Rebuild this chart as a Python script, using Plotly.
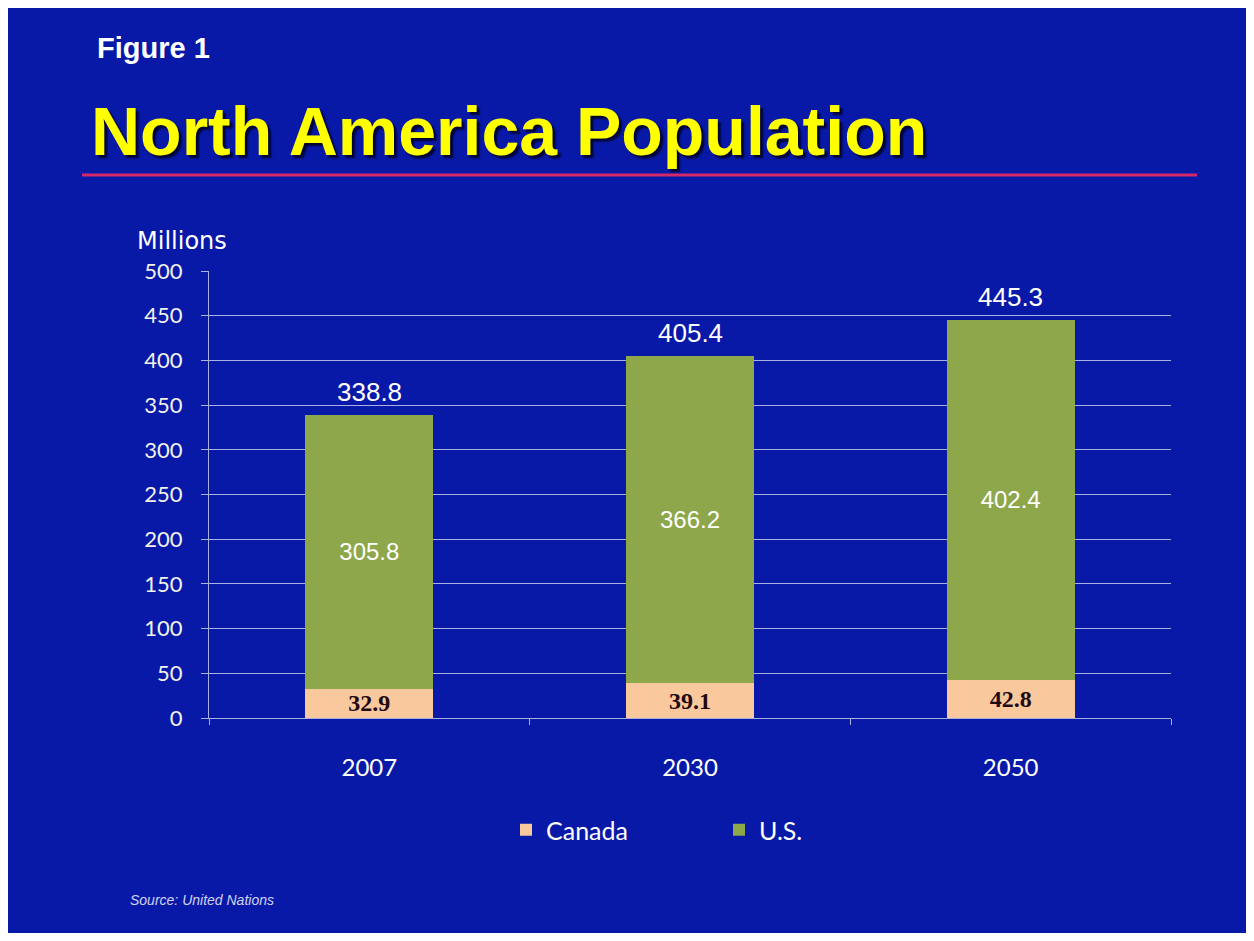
import plotly.graph_objects as go

# ---- data ----
years = ["2007", "2030", "2050"]
canada = [32.9, 39.1, 42.8]
us = [305.8, 366.2, 402.4]
totals = [338.8, 405.4, 445.3]
y_ticks = [0, 50, 100, 150, 200, 250, 300, 350, 400, 450, 500]

BG = "#0819A8"
GRID = "#A9B0E2"
W, H = 1238, 925
OFF = 8  # page margin in screenshot
L, R, T, B = 201, 75, 263, 215
PW, PH = W - L - R, H - T - B


def px(x):
    return (x - OFF - L) / PW


def py(y):
    return (H - B - (y - OFF)) / PH


fig = go.Figure()
fig.add_bar(
    x=years, y=canada, name="Canada",
    marker=dict(color="#F9C89C", line_width=0),
    text=[f"{v:.1f}" for v in canada], textposition="inside",
    insidetextanchor="middle", textangle=0,
    textfont=dict(family="Liberation Serif", size=25, color="#220810", weight="bold"),
)
fig.add_bar(
    x=years, y=us, name="U.S.",
    marker=dict(color="#8EA74B", line_width=0),
    text=[f"{v:.1f}" for v in us], textposition="inside",
    insidetextanchor="middle", textangle=0,
    textfont=dict(family="Liberation Sans", size=24, color="white"),
)

# total labels above each stacked bar (category index positions on the x scale)
for i, tot in enumerate(totals):
    fig.add_annotation(x=i, y=tot, xref="x", yref="y", text=f"{tot:.1f}", showarrow=False,
                       yanchor="bottom", yshift=6,
                       font=dict(family="Liberation Sans", size=26, color="white"))

# titles and notes
fig.add_annotation(xref="paper", yref="paper", x=px(95), y=py(48), xanchor="left", yanchor="middle",
                   text="<b>Figure 1</b>", showarrow=False,
                   font=dict(family="Liberation Sans", size=29, color="white"))
fig.add_annotation(xref="paper", yref="paper", x=px(89), y=py(131), xanchor="left", yanchor="middle",
                   text="<b>North America Population</b>", showarrow=False,
                   font=dict(family="Liberation Sans", size=68, color="#FFFF00",
                             shadow="3px 3px 2px rgba(0,0,30,0.85)"))
fig.add_shape(type="line", xref="paper", yref="paper", x0=px(82), x1=px(1197), y0=py(175), y1=py(175),
              line=dict(color="#D42A6A", width=3))
fig.add_annotation(xref="paper", yref="paper", x=px(135), y=py(241), xanchor="left", yanchor="middle",
                   text="Millions", showarrow=False,
                   font=dict(family="DejaVu Sans", size=24, color="white"))
fig.add_annotation(xref="paper", yref="paper", x=px(128), y=py(900), xanchor="left", yanchor="middle",
                   text="<i>Source: United Nations</i>", showarrow=False,
                   font=dict(family="Liberation Sans", size=14, color="#D0D4F0"))

fig.update_layout(
    width=W, height=H,
    margin=dict(l=L, r=R, t=T, b=B, autoexpand=False),
    paper_bgcolor=BG, plot_bgcolor=BG,
    barmode="stack", bargap=0.6,
    uniformtext=dict(minsize=22, mode="show"),
    showlegend=True,
    legend=dict(orientation="h", x=px(506), xanchor="left", y=py(830), yanchor="middle",
                font=dict(family="Lato", size=25, color="white"), traceorder="normal",
                bgcolor="rgba(0,0,0,0)", entrywidth=168),
    font=dict(family="Lato", color="white"),
)
fig.update_yaxes(range=[0, 500], tickvals=y_ticks, showgrid=True, gridcolor=GRID, gridwidth=1,
                 showline=True, linecolor=GRID, linewidth=1, ticks="outside", ticklen=7,
                 tickcolor=GRID, zeroline=False, ticklabelstandoff=14,
                 tickfont=dict(family="Lato", size=22, color="#F2F2EA"))
fig.update_xaxes(type="category", range=[-0.5, 2.5], showline=True, linecolor=GRID, linewidth=1,
                 ticks="outside", ticklen=6, tickcolor=GRID, tickson="boundaries", showgrid=False,
                 ticklabelstandoff=28, tickangle=0,
                 tickfont=dict(family="Lato", size=24, color="white"))

fig.write_html("out.html")
